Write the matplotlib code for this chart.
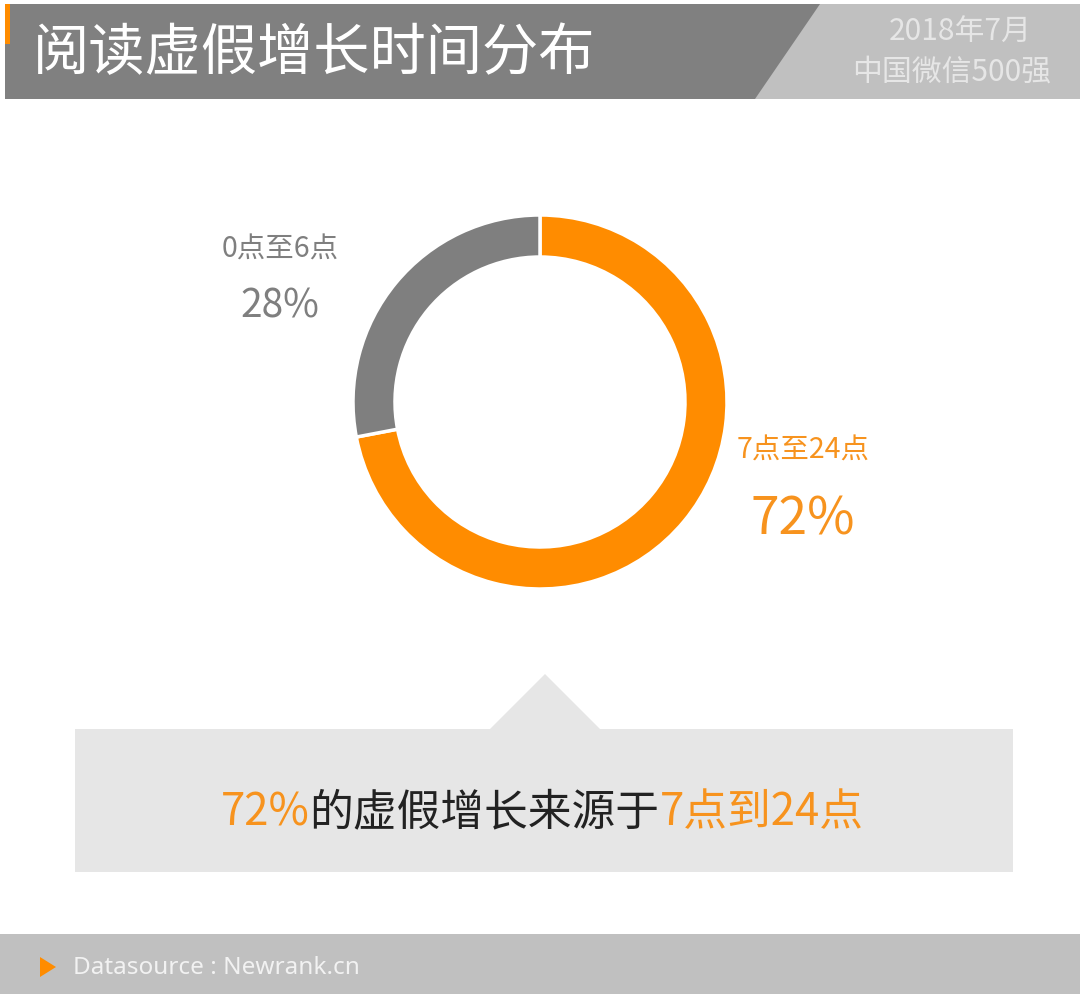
import matplotlib
matplotlib.use("Agg")
import matplotlib.pyplot as plt
from matplotlib.patches import Polygon, Rectangle
from matplotlib.offsetbox import TextArea, HPacker, AnnotationBbox

plt.rcParams['font.family'] = ['Noto Sans CJK SC', 'DejaVu Sans']

title = "阅读虚假增长时间分布"
subtitle = ["2018年7月", "中国微信500强"]
labels = ["7点至24点", "0点至6点"]
shares = [72, 28]
colors = ['#ff8c00', '#7f7f7f']
summary_parts = [("72%", '#f7931e'), ("的虚假增长来源于", '#222222'), ("7点到24点", '#f7931e')]
source = "Datasource : Newrank.cn"

W, H = 1080, 995
fig = plt.figure(figsize=(W / 100, H / 100), dpi=100)
fig.patch.set_facecolor('white')

# full-figure canvas axes in pixel coordinates (y down)
bg = fig.add_axes([0, 0, 1, 1])
bg.set_xlim(0, W)
bg.set_ylim(H, 0)
bg.axis('off')

# header
bg.add_patch(Polygon([(755, 5), (W, 5), (W, 100), (755, 100)], closed=True, color='#c0c0c0', lw=0))
bg.add_patch(Polygon([(5, 5), (820, 5), (755, 100), (5, 100)], closed=True, color='#808080', lw=0))
bg.add_patch(Rectangle((5, 5), 5, 40, color='#ff8c00', lw=0))
bg.text(33, 54, title, color='white', fontsize=40.5, va='center', ha='left', weight='light')
bg.text(960, 32, subtitle[0], color='#e6e6e6', fontsize=21.5, va='center', ha='center', weight='light')
bg.text(952, 72, subtitle[1], color='#e6e6e6', fontsize=21.5, va='center', ha='center', weight='light')

# donut
cx, cy, r = 540, 403, 187
half = 200
ax = fig.add_axes([(cx - half) / W, (H - cy - half) / H, 2 * half / W, 2 * half / H])
ax.pie(shares, colors=colors, startangle=90, counterclock=False, radius=r / half,
       wedgeprops=dict(width=42 / half, edgecolor='white', linewidth=2.5))
ax.set_xlim(-1, 1)
ax.set_ylim(-1, 1)
ax.set_aspect('equal')
ax.axis('off')

# slice labels
bg.text(280, 250, labels[1], color='#7f7f7f', fontsize=20.5, ha='center', va='center', weight='light')
bg.text(280, 306, f"{shares[1]}%", color='#7f7f7f', fontsize=28, ha='center', va='center', weight='light')
bg.text(803, 451, labels[0], color='#f7931e', fontsize=20.5, ha='center', va='center', weight='light')
bg.text(803, 520, f"{shares[0]}%", color='#f7931e', fontsize=37, ha='center', va='center', weight='light')

# callout box
bg.add_patch(Polygon([(490, 730), (545, 675), (600, 730)], closed=True, color='#e6e6e6', lw=0))
bg.add_patch(Rectangle((75, 730), 938, 143, color='#e6e6e6', lw=0))
parts = [TextArea(t, textprops=dict(color=c, fontsize=31.5, weight='light',
                                    family=['Noto Sans CJK SC', 'DejaVu Sans']))
         for t, c in summary_parts]
pack = HPacker(children=parts, align='baseline', pad=0, sep=0)
bg.add_artist(AnnotationBbox(pack, (542, 812), xycoords='data', frameon=False,
                             box_alignment=(0.5, 0.5)))

# footer
bg.add_patch(Rectangle((0, 935), W, 60, color='#c0c0c0', lw=0))
bg.add_patch(Polygon([(40, 958), (56, 968), (40, 978)], closed=True, color='#ff8c00', lw=0))
bg.text(73, 968, source, color='#f2f2f2', fontsize=17.5, ha='left', va='center',
        family=['Noto Sans', 'DejaVu Sans'])

fig.savefig("out.png", dpi=100)
